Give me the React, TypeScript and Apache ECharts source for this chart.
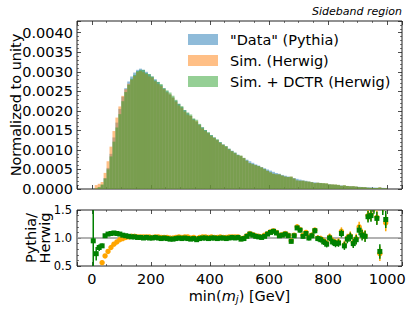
import React, { useEffect, useRef } from 'react';
import * as echarts from 'echarts';

// Histogram binning: 100 bins of 10 GeV from 0 to 1000
const BIN_WIDTH = 10;

// "Data" (Pythia) normalized histogram, bin by bin (0-10, 10-20, ... GeV)
const pythia = [
  0.000003, 0.00001, 0.00004, 0.0001, 0.00028, 0.00054, 0.0009, 0.00132, 0.0017, 0.00205,
  0.00236, 0.00258, 0.00275, 0.00288, 0.00298, 0.00305, 0.00308, 0.00305, 0.003, 0.00294,
  0.00288, 0.00281, 0.00274, 0.00266, 0.00258, 0.0025, 0.00242, 0.00234, 0.00226, 0.00218,
  0.0021, 0.00202, 0.00194, 0.00187, 0.00179, 0.00172, 0.00165, 0.00158, 0.00151, 0.00144,
  0.00138, 0.00132, 0.00126, 0.0012, 0.00114, 0.00109, 0.00103, 0.00098, 0.00093, 0.00088,
  0.00084, 0.00079, 0.00075, 0.00071, 0.00067, 0.00063, 0.0006, 0.00056, 0.00053, 0.0005,
  0.00047, 0.00044, 0.00041, 0.00039, 0.00036, 0.00034, 0.00032, 0.0003, 0.00028, 0.00026,
  0.00024, 0.00022, 0.00021, 0.00019, 0.00018, 0.00017, 0.00016, 0.00015, 0.00014, 0.00013,
  0.00012, 0.00011, 0.000104, 0.000097, 0.00009, 0.000083, 0.000077, 0.000071, 0.000066, 0.000061,
  0.000056, 0.000052, 0.000048, 0.000044, 0.000041, 0.000038, 0.000035, 0.000032, 0.00003, 0.000027,
];

// Ratio Pythia / Herwig (orange points)
const ratioHerwig: (number | null)[] = [
  null, 0.1, 0.3, 0.56, 0.68, 0.76, 0.83, 0.89, 0.93, 0.97,
  0.99, 1.01, 1.02, 1.03, 1.03, 1.02, 1.02, 1.02, 1.02, 1.02,
  1.01, 1.02, 1.02, 1.01, 1.01, 1.01, 1.0, 1.0, 1.01, 1.02,
  1.01, 1.02, 1.02, 1.0, 1.01, 0.99, 1.01, 1.02, 1.02, 1.01,
  1.02, 1.01, 1.01, 1.02, 1.01, 1.01, 1.02, 1.02, 1.02, 1.02,
  0.99, 1.0, 1.04, 1.08, 1.06, 1.04, 1.03, 1.02, 1.05, 1.08,
  1.11, 1.13, 1.1, 1.05, 1.06, 1.08, 1.05, 0.95, 1.05, 1.2,
  1.15, 1.05, 1.1, 1.02, 1.05, 1.14, 1.0, 0.99, 0.95, 0.91,
  1.02, 0.95, 0.92, 0.93, 1.12, 0.88, 1.0, 1.04, 0.92, 0.99,
  1.2, 1.07, 1.04, 1.4, 1.42, 1.58, 1.37, 0.72, 1.6, 1.27,
];

// Ratio Pythia / (Herwig + DCTR) (green squares)
const ratioDctr: (number | null)[] = [
  0.95, 0.72, 0.83, 0.86, 1.04, 1.07, 1.08, 1.09, 1.08, 1.07,
  1.05, 1.04, 1.03, 1.02, 1.02, 1.01, 1.01, 1.0, 1.01, 1.0,
  1.0, 1.01, 1.0, 0.99, 1.0, 0.99, 0.98, 0.98, 0.99, 1.0,
  0.99, 1.0, 0.99, 0.98, 0.99, 0.97, 0.99, 1.0, 1.0, 0.99,
  1.0, 1.0, 0.99, 1.0, 1.0, 0.99, 1.0, 1.01, 1.0, 1.01,
  0.98, 0.99, 1.03, 1.07, 1.05, 1.03, 1.02, 1.01, 1.03, 1.07,
  1.1, 1.12, 1.09, 1.04, 1.05, 1.07, 1.04, 0.94, 1.04, 1.18,
  1.14, 1.03, 1.08, 1.0, 1.04, 1.13, 0.99, 0.97, 0.93, 0.89,
  1.0, 0.93, 0.9, 0.91, 1.08, 0.86, 0.98, 1.02, 0.9, 0.97,
  1.14, 1.05, 1.03, 1.38, 1.4, 1.55, 1.35, 0.76, 1.55, 1.33,
];

// Statistical uncertainty on the ratios
const ratioErr = [
  0.8, 0.12, 0.06, 0.04, 0.03, 0.02, 0.015, 0.012, 0.01, 0.01,
  0.01, 0.01, 0.01, 0.01, 0.01, 0.01, 0.01, 0.01, 0.01, 0.01,
  0.01, 0.01, 0.01, 0.01, 0.01, 0.01, 0.01, 0.01, 0.01, 0.01,
  0.012, 0.012, 0.012, 0.012, 0.012, 0.012, 0.012, 0.012, 0.012, 0.012,
  0.014, 0.014, 0.014, 0.014, 0.015, 0.015, 0.015, 0.016, 0.016, 0.016,
  0.018, 0.018, 0.018, 0.02, 0.02, 0.02, 0.022, 0.022, 0.024, 0.024,
  0.025, 0.026, 0.027, 0.028, 0.029, 0.03, 0.032, 0.034, 0.035, 0.037,
  0.04, 0.04, 0.042, 0.044, 0.046, 0.048, 0.05, 0.052, 0.055, 0.058,
  0.06, 0.062, 0.065, 0.068, 0.07, 0.072, 0.075, 0.078, 0.08, 0.085,
  0.09, 0.095, 0.1, 0.105, 0.11, 0.115, 0.12, 0.13, 0.14, 0.15,
];

const LEGEND_NAMES = ['"Data" (Pythia)', 'Sim. (Herwig)', 'Sim. + DCTR (Herwig)'];
const X_MIN = -50;
const X_MAX = 1050;

const FONT = 'DejaVu Sans';

export default function App() {
  const ref = useRef<HTMLDivElement>(null);
  useEffect(() => {
    const chart = echarts.init(ref.current!, null, { renderer: 'svg' });

    const herwig = pythia.map((p, i) => (ratioHerwig[i] ? p / (ratioHerwig[i] as number) : 0));
    const dctr = pythia.map((p, i) => (ratioDctr[i] ? p / (ratioDctr[i] as number) : 0));
    const histData = (vals: number[]) => vals.map((v, i) => [i * BIN_WIDTH, (i + 1) * BIN_WIDTH, v]);
    const ratioData = (vals: (number | null)[]) =>
      vals
        .map((v, i) => (v == null ? null : [i * BIN_WIDTH + BIN_WIDTH / 2, v, ratioErr[i]]))
        .filter((d) => d != null);

    const histSeries = (name: string, color: string, vals: number[]) => ({
      type: 'custom',
      name,
      xAxisIndex: 0,
      yAxisIndex: 0,
      clip: true,
      itemStyle: { color },
      encode: { x: [0, 1], y: 2 },
      data: histData(vals),
      renderItem: (params: any, api: any) => {
        const p0 = api.coord([api.value(0), api.value(2)]);
        const p1 = api.coord([api.value(1), 0]);
        return {
          type: 'rect',
          shape: { x: p0[0], y: p0[1], width: p1[0] - p0[0], height: p1[1] - p0[1] },
          style: { fill: color },
        };
      },
    });

    const ratioSeries = (name: string, color: string, vals: (number | null)[], square: boolean) => ({
      type: 'custom',
      name,
      xAxisIndex: 2,
      yAxisIndex: 2,
      clip: true,
      encode: { x: 0, y: 1 },
      data: ratioData(vals),
      renderItem: (params: any, api: any) => {
        const x = api.value(0);
        const y = api.value(1);
        const e = api.value(2);
        const c = api.coord([x, y]);
        const t = api.coord([x, y + e]);
        const b = api.coord([x, y - e]);
        const marker = square
          ? { type: 'rect', shape: { x: c[0] - 2.5, y: c[1] - 2.5, width: 5, height: 5 }, style: { fill: color } }
          : { type: 'circle', shape: { cx: c[0], cy: c[1], r: 2.7 }, style: { fill: color } };
        return {
          type: 'group',
          children: [
            { type: 'line', shape: { x1: c[0], y1: t[1], x2: c[0], y2: b[1] }, style: { stroke: color, lineWidth: 1.5 } },
            marker,
          ],
        };
      },
    });

    const frameColor = '#222';
    const tick = { show: true, inside: true, length: 4, lineStyle: { color: frameColor, width: 0.8 } };
    const minor = (n: number) => ({ show: true, splitNumber: n, length: 2, lineStyle: { color: frameColor, width: 0.6 } });
    const noLine = { show: false, onZero: false };

    const xAxisBase = (gridIndex: number, position: string, labels: boolean) => ({
      type: 'value',
      gridIndex,
      position,
      min: X_MIN,
      max: X_MAX,
      splitNumber: 5,
      axisLine: noLine,
      axisTick: tick,
      minorTick: minor(4),
      splitLine: { show: false },
      axisLabel: labels
        ? {
            show: true, fontFamily: FONT, fontSize: 14.5, color: '#000', margin: 5,
            showMinLabel: false, showMaxLabel: false, formatter: (v: number) => String(v),
          }
        : { show: false },
    });

    const option: any = {
      animation: false,
      backgroundColor: '#fff',
      grid: [
        { left: 77, right: 13, top: 21, height: 168, show: true, borderColor: frameColor, borderWidth: 1, backgroundColor: 'transparent' },
        { left: 77, right: 13, top: 210, height: 56, show: true, borderColor: frameColor, borderWidth: 1, backgroundColor: 'transparent' },
      ],
      xAxis: [
        xAxisBase(0, 'bottom', false),
        xAxisBase(0, 'top', false),
        {
          ...xAxisBase(1, 'bottom', true),
          name: 'min({i|m}{s|j}) [GeV]',
          nameLocation: 'middle',
          nameGap: 22,
          nameTextStyle: {
            fontFamily: FONT,
            fontSize: 14.5,
            color: '#000',
            rich: {
              i: { fontFamily: FONT, fontSize: 14.5, fontStyle: 'italic', color: '#000' },
              s: { fontFamily: FONT, fontSize: 10, fontStyle: 'italic', color: '#000', padding: [6, 0, 0, 0] },
            },
          },
        },
        xAxisBase(1, 'top', false),
      ],
      yAxis: [
        {
          type: 'value', gridIndex: 0, position: 'left', min: 0, max: 0.0043, interval: 0.0005,
          axisLine: noLine, axisTick: tick, minorTick: minor(5), splitLine: { show: false },
          axisLabel: { fontFamily: FONT, fontSize: 14.5, color: '#000', margin: 4, showMaxLabel: false, formatter: (v: number) => v.toFixed(4) },
        },
        {
          type: 'value', gridIndex: 0, position: 'right', min: 0, max: 0.0043, interval: 0.0005,
          axisLine: noLine, axisTick: tick, minorTick: minor(5), splitLine: { show: false }, axisLabel: { show: false },
        },
        {
          type: 'value', gridIndex: 1, position: 'left', min: 0.5, max: 1.5, interval: 0.5,
          axisLine: noLine, axisTick: tick, minorTick: minor(5), splitLine: { show: false },
          axisLabel: { fontFamily: FONT, fontSize: 11.5, color: '#000', margin: 5, formatter: (v: number) => v.toFixed(1) },
        },
        {
          type: 'value', gridIndex: 1, position: 'right', min: 0.5, max: 1.5, interval: 0.5,
          axisLine: noLine, axisTick: tick, minorTick: minor(5), splitLine: { show: false }, axisLabel: { show: false },
        },
      ],
      legend: {
        data: LEGEND_NAMES,
        orient: 'vertical',
        left: 188,
        top: 31,
        padding: 0,
        icon: 'rect',
        itemWidth: 30,
        itemHeight: 11,
        itemGap: 4,
        textStyle: { fontFamily: FONT, fontSize: 14.5, color: '#000', lineHeight: 17, padding: [0, 0, 0, 7] },
      },
      graphic: [
        {
          type: 'text', right: 13, top: 6,
          style: { text: 'Sideband region', font: `italic 11px "${FONT}"`, fill: '#000' },
        },
        {
          type: 'text', x: 16, y: 105, rotation: Math.PI / 2,
          style: { text: 'Normalized to unity', font: `14.5px "${FONT}"`, fill: '#000', align: 'center', verticalAlign: 'middle' },
        },
        {
          type: 'text', x: 31, y: 238, rotation: Math.PI / 2,
          style: { text: 'Pythia/', font: `14.5px "${FONT}"`, fill: '#000', align: 'center', verticalAlign: 'middle' },
        },
        {
          type: 'text', x: 45, y: 238, rotation: Math.PI / 2,
          style: { text: 'Herwig', font: `14.5px "${FONT}"`, fill: '#000', align: 'center', verticalAlign: 'middle' },
        },
      ],
      series: [
        histSeries(LEGEND_NAMES[0], 'rgba(31,119,180,0.5)', pythia),
        histSeries(LEGEND_NAMES[1], 'rgba(255,127,14,0.5)', herwig),
        histSeries(LEGEND_NAMES[2], 'rgba(44,160,44,0.5)', dctr),
        {
          type: 'line',
          name: 'unity',
          xAxisIndex: 2,
          yAxisIndex: 2,
          data: [[X_MIN, 1], [X_MAX, 1]],
          symbol: 'none',
          lineStyle: { color: '#999', width: 1.5 },
          z: 1,
          silent: true,
        },
        ratioSeries('Pythia / Herwig', '#ffa500', ratioHerwig, false),
        ratioSeries('Pythia / Herwig + DCTR', '#008000', ratioDctr, true),
      ],
    };

    chart.setOption(option);
    return () => chart.dispose();
  }, []);

  return <div ref={ref} style={{ position: 'fixed', left: 0, top: 0, width: 415, height: 312 }} />;
}
